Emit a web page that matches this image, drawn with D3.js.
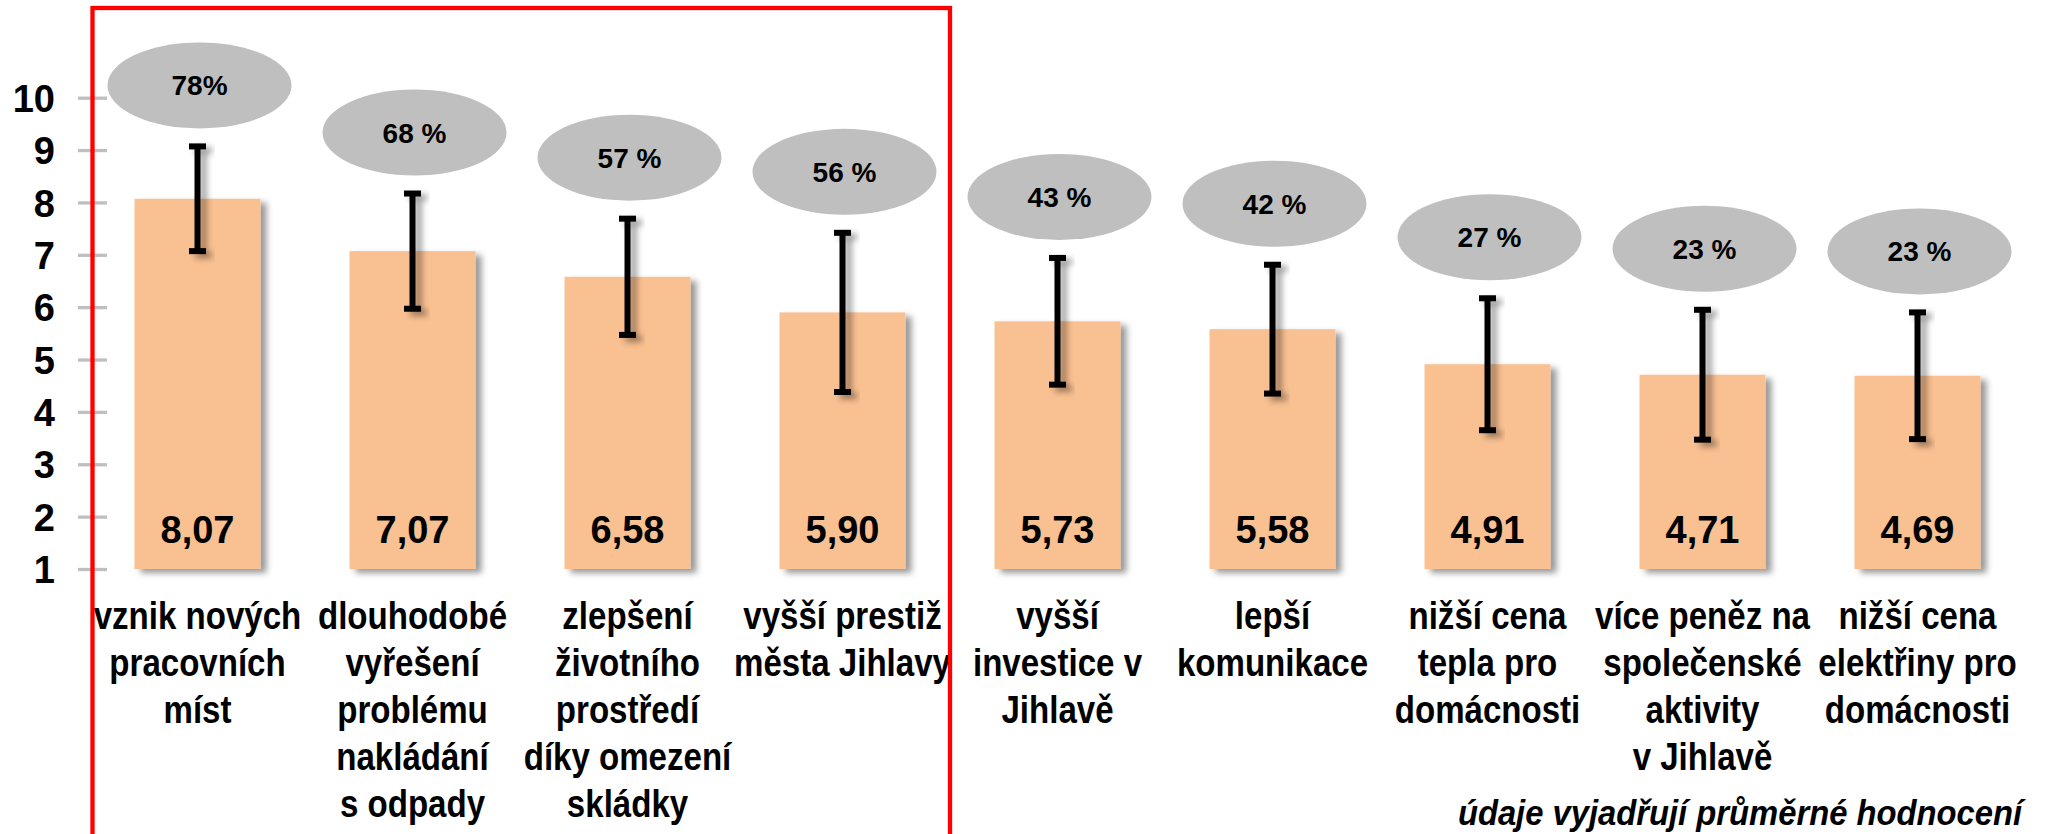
<!DOCTYPE html>
<html>
<head>
<meta charset="utf-8">
<script src="https://cdn.jsdelivr.net/npm/d3@7"></script>
<style>
body { margin:0; background:#fff; }
text { font-family:"Liberation Sans", Arial, sans-serif; font-weight:bold; fill:#000; }
</style>
</head>
<body>
<svg></svg>
<script>
// hodnoceni prinosu - prumerne znamky + podil souhlasu
var categories = [
    ["vznik nových", "pracovních", "míst"],
    ["dlouhodobé", "vyřešení", "problému", "nakládání", "s odpady"],
    ["zlepšení", "životního", "prostředí", "díky omezení", "skládky"],
    ["vyšší prestiž", "města Jihlavy"],
    ["vyšší", "investice v", "Jihlavě"],
    ["lepší", "komunikace"],
    ["nižší cena", "tepla pro", "domácnosti"],
    ["více peněz na", "společenské", "aktivity", "v Jihlavě"],
    ["nižší cena", "elektřiny pro", "domácnosti"]
]
var means = [8.07, 7.07, 6.58, 5.90, 5.73, 5.58, 4.91, 4.71, 4.69]
var sds = [1.00, 1.10, 1.11, 1.52, 1.21, 1.23, 1.26, 1.24, 1.21]
var shares = ["78%", "68 %", "57 %", "56 %", "43 %", "42 %", "27 %", "23 %", "23 %"]
var yTicks = [1, 2, 3, 4, 5, 6, 7, 8, 9, 10]
var note = "údaje vyjadřují průměrné hodnocení"

var screen = {width:2046, height:834}

var svg = d3.select("svg")
    .attr("width", screen.width)
    .attr("height", screen.height)

// stin pod sloupci a chybovymi useckami
var defs = svg.append("defs")
var shadow = defs.append("filter")
    .attr("id", "shadow")
    .attr("x", "-50%").attr("y", "-20%")
    .attr("width", "200%").attr("height", "140%")
shadow.append("feDropShadow")
    .attr("dx", 6).attr("dy", 4)
    .attr("stdDeviation", 3)
    .attr("flood-color", "#000")
    .attr("flood-opacity", 0.4)

var xScale = d3.scaleBand()
    .domain(d3.range(categories.length))
    .range([90, 2025])
    .paddingInner(0.414)
    .paddingOuter(0.207)

var yScale = d3.scaleLinear()
    .domain([1, 10])
    .range([569, 97.7])

var cx = function(i) { return xScale(i) + xScale.bandwidth() / 2 }
var fmt = function(v) { return d3.format(".2f")(v).replace(".", ",") }

// osa y - jen znacky a popisky
var yAxis = d3.axisLeft(yScale)
    .tickValues(yTicks)
    .tickSize(29)
    .tickPadding(23)
    .tickFormat(d3.format("d"))

var axis = svg.append("g")
    .attr("transform", "translate(107,0)")
    .call(yAxis)
axis.select(".domain").remove()
axis.selectAll(".tick line")
    .attr("stroke", "#bfbfbf")
    .attr("stroke-width", 3.3)
axis.selectAll(".tick text")
    .attr("font-size", 38)
    .attr("dy", "0.36em")
    .attr("font-family", "Liberation Sans, Arial, sans-serif")
    .attr("font-weight", "bold")
    .attr("fill", "#000")

// sloupce
svg.append("g")
    .selectAll("rect")
    .data(means)
    .enter()
    .append("rect")
    .attr("x", function(d, i) { return xScale(i) })
    .attr("y", function(d) { return yScale(d) })
    .attr("width", xScale.bandwidth())
    .attr("height", function(d) { return yScale(1) - yScale(d) })
    .attr("fill", "#f9c091")
    .attr("filter", "url(#shadow)")

// chybove usecky
var errs = svg.append("g")
    .selectAll("g")
    .data(means)
    .enter()
    .append("g")
    .attr("filter", "url(#shadow)")

errs.append("rect")
    .attr("x", function(d, i) { return cx(i) - 3 })
    .attr("y", function(d, i) { return yScale(d + sds[i]) })
    .attr("width", 6)
    .attr("height", function(d, i) { return yScale(d - sds[i]) - yScale(d + sds[i]) })
    .attr("fill", "#000")

errs.selectAll(".cap")
    .data(function(d, i) { return [{i:i, v:d + sds[i]}, {i:i, v:d - sds[i]}] })
    .enter()
    .append("rect")
    .attr("class", "cap")
    .attr("x", function(c) { return cx(c.i) - 8.5 })
    .attr("y", function(c) { return yScale(c.v) - 3 })
    .attr("width", 17)
    .attr("height", 6)
    .attr("fill", "#000")

// hodnoty ve sloupcich
svg.append("g")
    .selectAll("text")
    .data(means)
    .enter()
    .append("text")
    .attr("x", function(d, i) { return cx(i) })
    .attr("y", yScale(1) - 26)
    .attr("text-anchor", "middle")
    .attr("font-size", 38)
    .text(function(d) { return fmt(d) })

// sede elipsy s procenty
var bubbles = svg.append("g")
    .selectAll("g")
    .data(shares)
    .enter()
    .append("g")
    .attr("transform", function(d, i) {
        return "translate(" + (cx(i) + 2) + "," + (yScale(means[i] + sds[i]) - 61) + ")"
    })

bubbles.append("ellipse")
    .attr("rx", 92)
    .attr("ry", 43)
    .attr("fill", "#bfbfbf")

bubbles.append("text")
    .attr("y", 10)
    .attr("text-anchor", "middle")
    .attr("font-size", 28)
    .text(function(d) { return d })

// popisky kategorii
var labels = svg.append("g")
    .selectAll("g")
    .data(categories)
    .enter()
    .append("g")
    .attr("transform", function(d, i) { return "translate(" + cx(i) + "," + (yScale(1) + 60) + ") scale(0.87,1)" })

labels.selectAll("text")
    .data(function(d) { return d })
    .enter()
    .append("text")
    .attr("y", function(d, j) { return j * 47 })
    .attr("text-anchor", "middle")
    .attr("font-size", 38)
    .text(function(d) { return d })

// cerveny ramecek kolem prvnich ctyr
var step = xScale.step()
svg.append("rect")
    .attr("x", xScale.range()[0] + 2.5)
    .attr("y", 8)
    .attr("width", (cx(3) + cx(4)) / 2 - xScale.range()[0] - 2.5)
    .attr("height", 900)
    .attr("fill", "none")
    .attr("stroke", "#ff0000")
    .attr("stroke-width", 4.3)

svg.append("text")
    .attr("transform", "translate(2022,825) scale(0.91,1)")
    .attr("text-anchor", "end")
    .attr("font-size", 36)
    .attr("font-style", "italic")
    .text(note)
</script>
</body>
</html>
